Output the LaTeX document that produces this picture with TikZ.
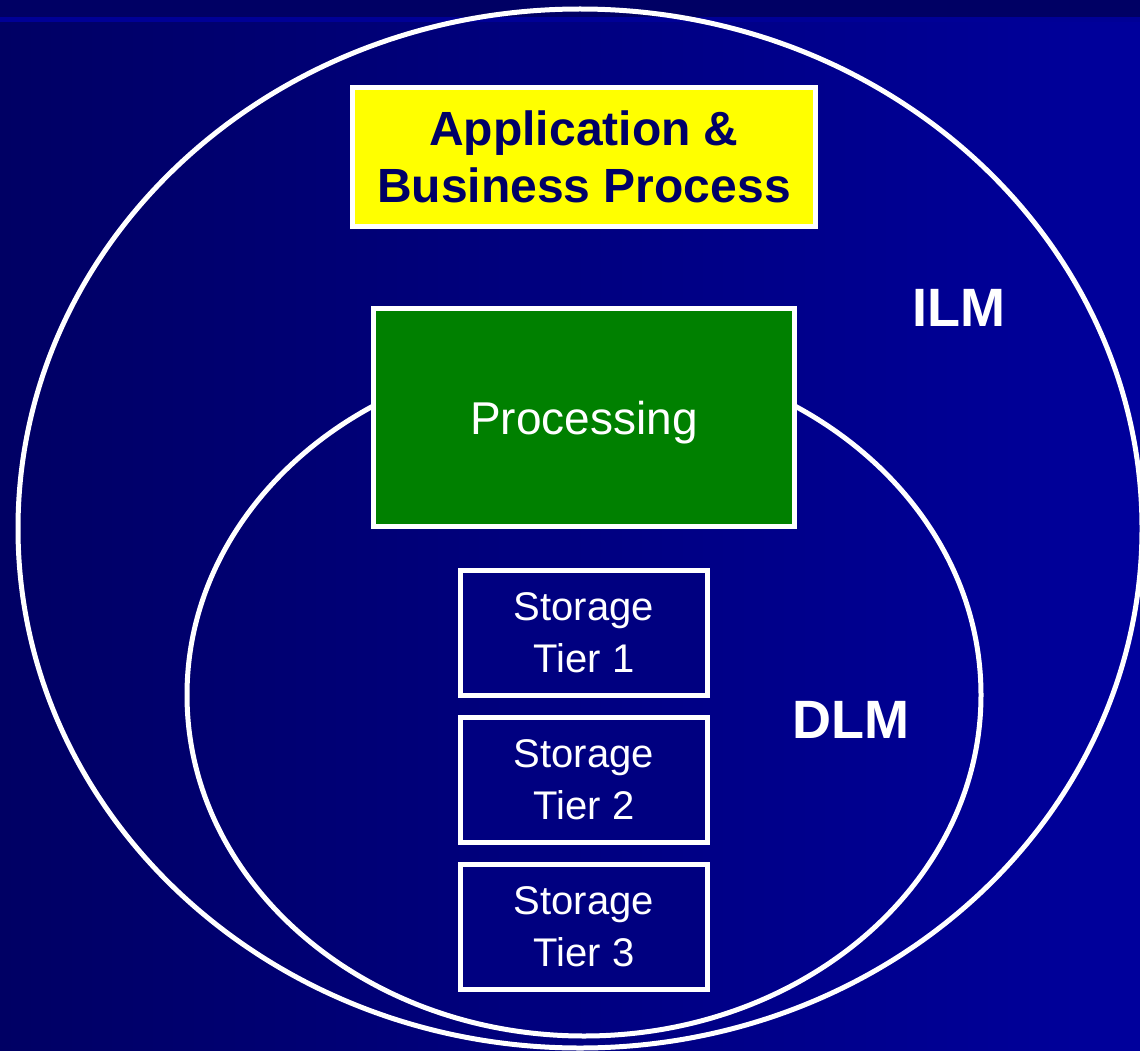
\documentclass[tikz,border=0pt]{standalone}
\usepackage{fontspec}
\setmainfont{Liberation Sans}
\usepackage{xcolor}
\usetikzlibrary{positioning}
\definecolor{ilmNavyDark}{RGB}{0,0,100}
\definecolor{ilmNavyLight}{RGB}{0,0,156}
\definecolor{ilmStripe}{RGB}{0,0,150}
\definecolor{ilmNavy}{RGB}{0,0,128}
\definecolor{ilmGreen}{RGB}{0,128,0}
\definecolor{ilmYellow}{RGB}{255,255,0}
\definecolor{ilmText}{RGB}{0,0,102}

\begin{document}
\begin{tikzpicture}[x=1pt, y=-1pt,
  tierbox/.style={draw=white, line width=5pt, fill=ilmNavy, text=white,
    minimum width=247pt, minimum height=125pt, align=center, inner sep=0pt,
    font=\fontsize{40}{52}\selectfont},
  tag/.style={text=white, inner sep=0pt, font=\fontsize{54}{60}\selectfont\bfseries}]
\useasboundingbox (0,0) rectangle (1140,1051);
\shade[left color=ilmNavyDark, right color=ilmNavyLight] (0,0) rectangle (1140,1051);
\fill[ilmNavyDark] (0,0) rectangle (1140,17);
\fill[ilmStripe] (0,17) rectangle (1140,22);

\draw[white, line width=5pt] (580,528.5) ellipse [x radius=562, y radius=519.5];
\draw[white, line width=5pt] (584,695) ellipse [x radius=397, y radius=341];

\node[draw=white, line width=5pt, fill=ilmYellow, text=ilmText, align=center,
  minimum width=463pt, minimum height=139pt, inner sep=0pt,
  font=\fontsize{48}{57}\selectfont\bfseries] (app) at (584,157) {Application \&\\Business Process};
\node[draw=white, line width=5pt, fill=ilmGreen, text=white, minimum width=421pt,
  minimum height=218pt, inner sep=0pt, text depth=0pt,
  font=\fontsize{46}{52}\selectfont] (proc) at (584,417.5) {Processing};

\node[tierbox] (tier1) at (584,633) {Storage\\Tier 1};
\node[tierbox, below=17pt of tier1] (tier2) {Storage\\Tier 2};
\node[tierbox, below=17pt of tier2] (tier3) {Storage\\Tier 3};

\node[tag] (ilm) at (959,308) {ILM};
\node[tag] (dlm) at (851,720) {DLM};
\end{tikzpicture}
\end{document}
